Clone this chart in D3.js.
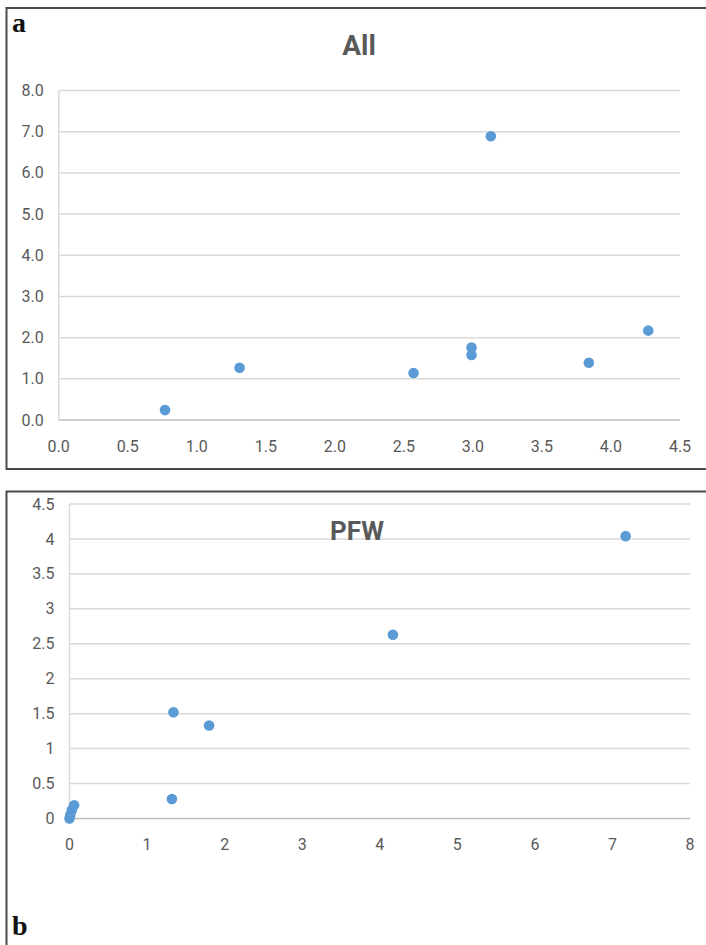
<!DOCTYPE html>
<html>
<head>
<meta charset="utf-8">
<title>All / PFW scatter</title>
<script src="https://cdnjs.cloudflare.com/ajax/libs/d3/7.8.5/d3.min.js"></script>
<style>
  html, body { margin: 0; padding: 0; background: #fff; }
  svg { display: block; }
  .tick-label { font-family: Roboto, "Liberation Sans", sans-serif; font-size: 16px; fill: #595959; }
  .chart-title { font-family: Roboto, "Liberation Sans", sans-serif; font-weight: bold; fill: #595959; }
  .panel-letter { font-family: "Liberation Serif", "DejaVu Serif", serif; font-weight: bold; fill: #111; }
</style>
</head>
<body>
<script>
// panel a: "All"
var allX = [0.77, 1.31, 2.57, 2.99, 2.99, 3.13, 3.84, 4.27];
var allY = [0.24, 1.27, 1.14, 1.76, 1.58, 6.89, 1.39, 2.17];
var allXTicks = [0, 0.5, 1, 1.5, 2, 2.5, 3, 3.5, 4, 4.5];
var allYTicks = [0, 1, 2, 3, 4, 5, 6, 7, 8];

// panel b: "PFW"
var pfwX = [0, 0.01, 0.03, 0.06, 1.32, 1.34, 1.80, 4.17, 7.17];
var pfwY = [0, 0.05, 0.12, 0.19, 0.28, 1.52, 1.33, 2.63, 4.04];
var pfwXTicks = [0, 1, 2, 3, 4, 5, 6, 7, 8];
var pfwYTicks = [0, 0.5, 1, 1.5, 2, 2.5, 3, 3.5, 4, 4.5];

var svg = d3.select("body").append("svg")
    .attr("width", 706)
    .attr("height", 945);

// draws one excel-style scatter panel
function panel(opt) {
    var x = d3.scaleLinear().domain(opt.xDomain).range([opt.left, opt.right]);
    var y = d3.scaleLinear().domain(opt.yDomain).range([opt.bottom, opt.top]);

    // frame around the panel (runs off the right edge)
    svg.append("rect")
        .attr("x", opt.box[0]).attr("y", opt.box[1])
        .attr("width", opt.box[2]).attr("height", opt.box[3])
        .attr("fill", "none")
        .attr("stroke", "#4a4a4a")
        .attr("stroke-width", 2);

    var g = svg.append("g");

    // horizontal gridlines
    g.selectAll("line.grid")
        .data(opt.yTicks)
        .enter().append("line")
        .attr("class", "grid")
        .attr("x1", opt.left).attr("x2", opt.right)
        .attr("y1", function(d) { return y(d); })
        .attr("y2", function(d) { return y(d); })
        .attr("stroke", function(d) { return d === 0 ? "#bfbfbf" : "#d9d9d9"; })
        .attr("stroke-width", 1.5);

    // y axis line
    g.append("line")
        .attr("x1", opt.left).attr("x2", opt.left)
        .attr("y1", y(opt.yDomain[1])).attr("y2", y(0))
        .attr("stroke", "#d9d9d9")
        .attr("stroke-width", 1.5);

    // y tick labels
    g.selectAll("text.ylab")
        .data(opt.yTicks)
        .enter().append("text")
        .attr("class", "tick-label")
        .attr("x", opt.left - 15)
        .attr("y", function(d) { return y(d); })
        .attr("dy", "0.35em")
        .attr("text-anchor", "end")
        .text(opt.yFormat);

    // x tick labels
    g.selectAll("text.xlab")
        .data(opt.xTicks)
        .enter().append("text")
        .attr("class", "tick-label")
        .attr("x", function(d) { return x(d); })
        .attr("y", opt.bottom + opt.xLabelGap)
        .attr("dy", "0.35em")
        .attr("text-anchor", "middle")
        .text(opt.xFormat);

    // title
    g.append("text")
        .attr("class", "chart-title")
        .attr("x", opt.titleX).attr("y", opt.titleY)
        .attr("text-anchor", "middle")
        .style("font-size", opt.titleSize + "px")
        .text(opt.title);

    // points
    g.selectAll("circle")
        .data(opt.xs.map(function(v, i) { return [v, opt.ys[i]]; }))
        .enter().append("circle")
        .attr("cx", function(d) { return x(d[0]); })
        .attr("cy", function(d) { return y(d[1]); })
        .attr("r", 5.3)
        .attr("fill", "#5b9bd5");

    // panel letter
    svg.append("text")
        .attr("class", "panel-letter")
        .attr("x", opt.letterX).attr("y", opt.letterY)
        .style("font-size", "28px")
        .text(opt.letter);
}

panel({
    box: [6.5, 8, 720, 461],
    left: 58.7, right: 680, top: 90.5, bottom: 420,
    xDomain: [0, 4.5], yDomain: [0, 8],
    xTicks: allXTicks, yTicks: allYTicks,
    xFormat: d3.format(".1f"), yFormat: d3.format(".1f"),
    xLabelGap: 26,
    title: "All", titleX: 359, titleY: 55, titleSize: 28,
    xs: allX, ys: allY,
    letter: "a", letterX: 12, letterY: 32
});

panel({
    box: [6.5, 491.5, 720, 470],
    left: 69.5, right: 690, top: 504, bottom: 818.5,
    xDomain: [0, 8], yDomain: [0, 4.5],
    xTicks: pfwXTicks, yTicks: pfwYTicks,
    xFormat: d3.format("d"), yFormat: function(d) { return String(d); },
    xLabelGap: 26,
    title: "PFW", titleX: 357, titleY: 540, titleSize: 26,
    xs: pfwX, ys: pfwY,
    letter: "b", letterX: 12, letterY: 935
});
</script>
</body>
</html>
